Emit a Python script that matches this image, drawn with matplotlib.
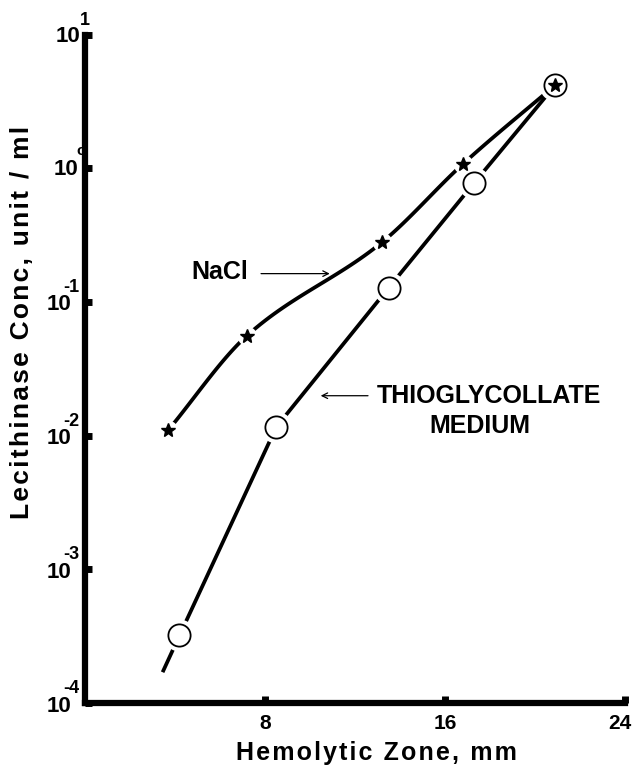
import matplotlib
matplotlib.use("Agg")
import matplotlib.pyplot as plt
import matplotlib.transforms as mtransforms
import numpy as np

plt.rcParams['font.family'] = ['Liberation Sans', 'DejaVu Sans']

# Hemolytic zone diameter (mm) vs. lecithinase concentration (unit/ml)
nacl_x = [3.7, 7.2, 13.2, 16.8, 20.9]
nacl_y = [0.011, 0.056, 0.28, 1.08, 4.2]

thio_x = [4.2, 8.5, 13.5, 17.3, 20.9]
thio_y = [3.2e-4, 0.0116, 0.128, 0.78, 4.2]
# the fitted thioglycollate line continues a little below the lowest point
thio_line_start = (3.45, 1.7e-4)

x_ticks = [8, 16, 24]
x_tick_labels = ['8', '16', '24']
y_ticks = [1e-4, 1e-3, 1e-2, 1e-1, 1e0, 1e1]
y_exponents = ['-4', '-3', '-2', '-1', 'o', '1']

HAIR = '\u200a'


def spaced(s):
    return HAIR.join(s)


def smooth_curve(xs, ys, n=30):
    """Monotone cubic (Fritsch-Carlson) curve through the points in (x, log10 y)."""
    x = np.asarray(xs, float)
    y = np.log10(np.asarray(ys, float))
    h = np.diff(x)
    d = np.diff(y) / h
    m = np.zeros_like(x)
    m[0], m[-1] = d[0], d[-1]
    for k in range(1, len(x) - 1):
        if d[k - 1] * d[k] > 0:
            w1 = 2 * h[k] + h[k - 1]
            w2 = h[k] + 2 * h[k - 1]
            m[k] = (w1 + w2) / (w1 / d[k - 1] + w2 / d[k])
    out_x, out_y = [], []
    for k in range(len(x) - 1):
        t = np.linspace(0, 1, n, endpoint=False)
        h00 = 2 * t ** 3 - 3 * t ** 2 + 1
        h10 = t ** 3 - 2 * t ** 2 + t
        h01 = -2 * t ** 3 + 3 * t ** 2
        h11 = t ** 3 - t ** 2
        out_x.extend(x[k] + t * h[k])
        out_y.extend(h00 * y[k] + h10 * h[k] * m[k] + h01 * y[k + 1]
                     + h11 * h[k] * m[k + 1])
    out_x.append(x[-1])
    out_y.append(y[-1])
    return np.array(out_x), 10 ** np.array(out_y)


fig = plt.figure(figsize=(6.34, 7.70), dpi=100)
ax = fig.add_axes([0.134, 0.087, 0.852, 0.868])
ax.set_yscale('log')
ax.set_xlim(0, 24)
ax.set_ylim(1e-4, 1e1)

lw = 2.7
# connecting lines
cx, cy = smooth_curve(nacl_x, nacl_y)
ax.plot(cx, cy, color='black', lw=lw, zorder=2, solid_capstyle='butt')
ax.plot([thio_line_start[0]] + thio_x, [thio_line_start[1]] + thio_y,
        color='black', lw=lw, zorder=2, solid_capstyle='butt')

# white halos break the lines around each symbol
ax.plot(nacl_x[:-1], nacl_y[:-1], 'o', ms=14, mfc='white', mec='none', zorder=3)
ax.plot(thio_x, thio_y, 'o', ms=23, mfc='white', mec='none', zorder=3)

# symbols
ax.plot(thio_x, thio_y, 'o', ms=16, mfc='white', mec='black', mew=1.3, zorder=4)
ax.plot(nacl_x, nacl_y, '*', ms=10, color='black', zorder=5)

# axes styling
for side in ['top', 'right']:
    ax.spines[side].set_visible(False)
for side in ['left', 'bottom']:
    ax.spines[side].set_linewidth(4.5)
    ax.spines[side].set_capstyle('projecting')

ax.set_xticks(x_ticks)
ax.set_xticklabels(x_tick_labels)
ax.set_yticks(y_ticks)
ax.set_yticklabels([])
ax.minorticks_off()
ax.tick_params(axis='both', direction='in', length=5, width=5, color='black')
ax.tick_params(axis='x', pad=8, labelsize=15)
for lab in ax.get_xticklabels():
    lab.set_fontweight('bold')
# the last x label sits at the figure edge; nudge it inward
last = ax.get_xticklabels()[-1]
last.set_transform(last.get_transform()
                   + mtransforms.ScaledTranslation(-5 / 100, 0, fig.dpi_scale_trans))

# decade labels written as 10 with a raised exponent
PT = 0.72  # points per pixel at 100 dpi
for yv, ex in zip(y_ticks, y_exponents):
    if ex.startswith('-'):
        base_dx, base_dy, ex_dx, ex_dy, ex_fs = -14, -3, -22, 6, 13
    elif ex == 'o':
        base_dx, base_dy, ex_dx, ex_dy, ex_fs = -7, -1, -9, 10, 11
    else:
        base_dx, base_dy, ex_dx, ex_dy, ex_fs = -5, -2, -5, 6, 13
    ax.annotate('10', xy=(0, yv), xycoords=('axes fraction', 'data'),
                xytext=(base_dx * PT, base_dy * PT), textcoords='offset points',
                ha='right', va='center', fontsize=16, fontweight='bold',
                annotation_clip=False)
    ax.annotate(ex, xy=(0, yv), xycoords=('axes fraction', 'data'),
                xytext=(ex_dx * PT, ex_dy * PT), textcoords='offset points',
                ha='left', va='bottom', fontsize=ex_fs, fontweight='bold',
                annotation_clip=False)

# axis titles
fig.text(376 / 634, 1 - 760 / 770, spaced('Hemolytic Zone, mm'),
         ha='center', va='baseline', fontsize=18, fontweight='bold')
fig.text(22 / 634, 1 - 322 / 770, spaced('Lecithinase Conc, unit / ml'),
         ha='center', va='center', rotation=90, fontsize=19, fontweight='bold')

# labels with pointer arrows
ax.text(7.24, 0.168, 'NaCl', ha='right', va='center', fontsize=18,
        fontweight='bold')
ax.annotate('', xy=(11.0, 0.163), xytext=(7.7, 0.163),
            arrowprops=dict(arrowstyle='->', color='black', lw=0.9))
ax.text(12.98, 0.0199, 'THIOGLYCOLLATE', ha='left', va='center', fontsize=18,
        fontweight='bold')
ax.text(17.56, 0.0118, 'MEDIUM', ha='center', va='center', fontsize=18,
        fontweight='bold')
ax.annotate('', xy=(10.35, 0.0199), xytext=(12.7, 0.0199),
            arrowprops=dict(arrowstyle='->', color='black', lw=0.9))

fig.savefig('out.png', dpi=100)
